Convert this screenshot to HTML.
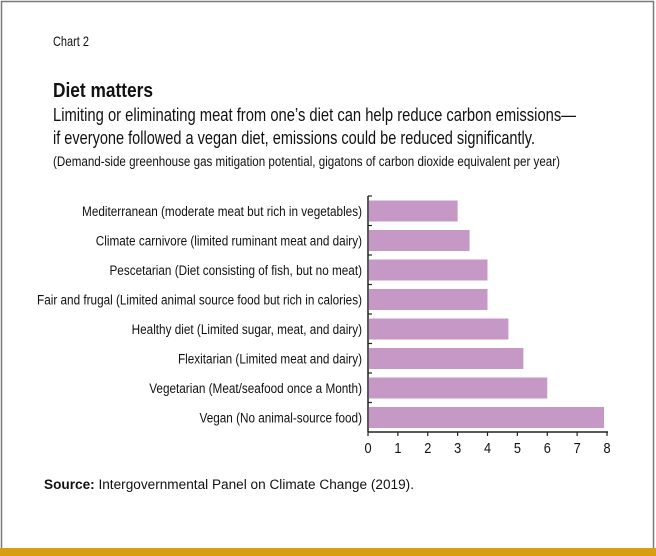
<!DOCTYPE html>
<html><head><meta charset="utf-8"><style>
html,body{margin:0;padding:0;background:#fff}
svg{display:block}
text{font-family:"Liberation Sans Narrow","Liberation Sans",sans-serif;fill:#111}
</style></head><body>
<svg id="chart" width="656" height="556" viewBox="0 0 656 556">
<rect x="1.5" y="1.5" width="652" height="550" fill="#fff" stroke="#7a7a7a" stroke-width="1.5"/>
<rect x="0" y="548" width="656" height="8" fill="#d89e10"/>
<text x="53" y="46" font-size="14" textLength="36" lengthAdjust="spacingAndGlyphs">Chart 2</text>
<text x="53" y="97" font-size="20" font-weight="bold" textLength="100" lengthAdjust="spacingAndGlyphs">Diet matters</text>
<text x="53" y="121" font-size="18" textLength="523" lengthAdjust="spacingAndGlyphs">Limiting or eliminating meat from one’s diet can help reduce carbon emissions—</text>
<text x="53" y="144" font-size="18" textLength="482" lengthAdjust="spacingAndGlyphs">if everyone followed a vegan diet, emissions could be reduced significantly.</text>
<text x="53" y="166" font-size="13.5" textLength="507" lengthAdjust="spacingAndGlyphs">(Demand-side greenhouse gas mitigation potential, gigatons of carbon dioxide equivalent per year)</text>
<g id="plot"></g>
<text x="44" y="489" font-size="13.5" style="font-family:'Liberation Sans',sans-serif" textLength="370" lengthAdjust="spacingAndGlyphs"><tspan font-weight="bold">Source:</tspan> Intergovernmental Panel on Climate Change (2019).</text>
</svg>
<script>
const categories = [
 "Mediterranean (moderate meat but rich in vegetables)",
 "Climate carnivore (limited ruminant meat and dairy)",
 "Pescetarian (Diet consisting of fish, but no meat)",
 "Fair and frugal (Limited animal source food but rich in calories)",
 "Healthy diet (Limited sugar, meat, and dairy)",
 "Flexitarian (Limited meat and dairy)",
 "Vegetarian (Meat/seafood once a Month)",
 "Vegan (No animal-source food)"
];
const values = [3.0, 3.4, 4.0, 4.0, 4.7, 5.2, 6.0, 7.9];
const tickValues = [0,1,2,3,4,5,6,7,8];

const NS="http://www.w3.org/2000/svg";
const g=document.getElementById('plot');
const x0=368, x1=607, yTop=196, yBot=432, xMax=8;
const xs=v=>x0+(v/xMax)*(x1-x0);
const band=(yBot-yTop)/categories.length;
const ys=i=>yTop+i*band;
function mk(t,a){const e=document.createElementNS(NS,t);for(const k in a)e.setAttribute(k,a[k]);g.appendChild(e);return e;}

categories.forEach((c,i)=>{
  const r=mk('rect',{x:xs(0)+1,y:ys(i)+4.5,width:xs(values[i])-xs(0)-1,height:21,fill:'#c698c6'});
  
  
  const t=mk('text',{x:0,y:0,'font-size':14,'text-anchor':'end',transform:'translate(362,'+(ys(i)+band/2+5)+') scale(0.84,1)'});
  t.textContent=c;
  
  
  const tk=mk('line',{x1:x0,x2:x0+4,y1:ys(i),y2:ys(i),stroke:'#222','stroke-width':1.2});
  
  
});
const ya=mk('line',{x1:x0,x2:x0,y1:yTop,y2:yBot,stroke:'#222','stroke-width':1.5});


const xa=mk('line',{x1:x0,x2:x1+1,y1:yBot,y2:yBot,stroke:'#222','stroke-width':1.5});


tickValues.forEach(v=>{
  const l=mk('line',{x1:xs(v),x2:xs(v),y1:yBot,y2:yBot+4,stroke:'#222','stroke-width':1.2});
  
  
  const t=mk('text',{x:0,y:0,'font-size':15,'text-anchor':'middle',transform:'translate('+xs(v)+',453) scale(0.85,1)'});
  t.textContent=v;
  
  
});
</script>
</body></html>
